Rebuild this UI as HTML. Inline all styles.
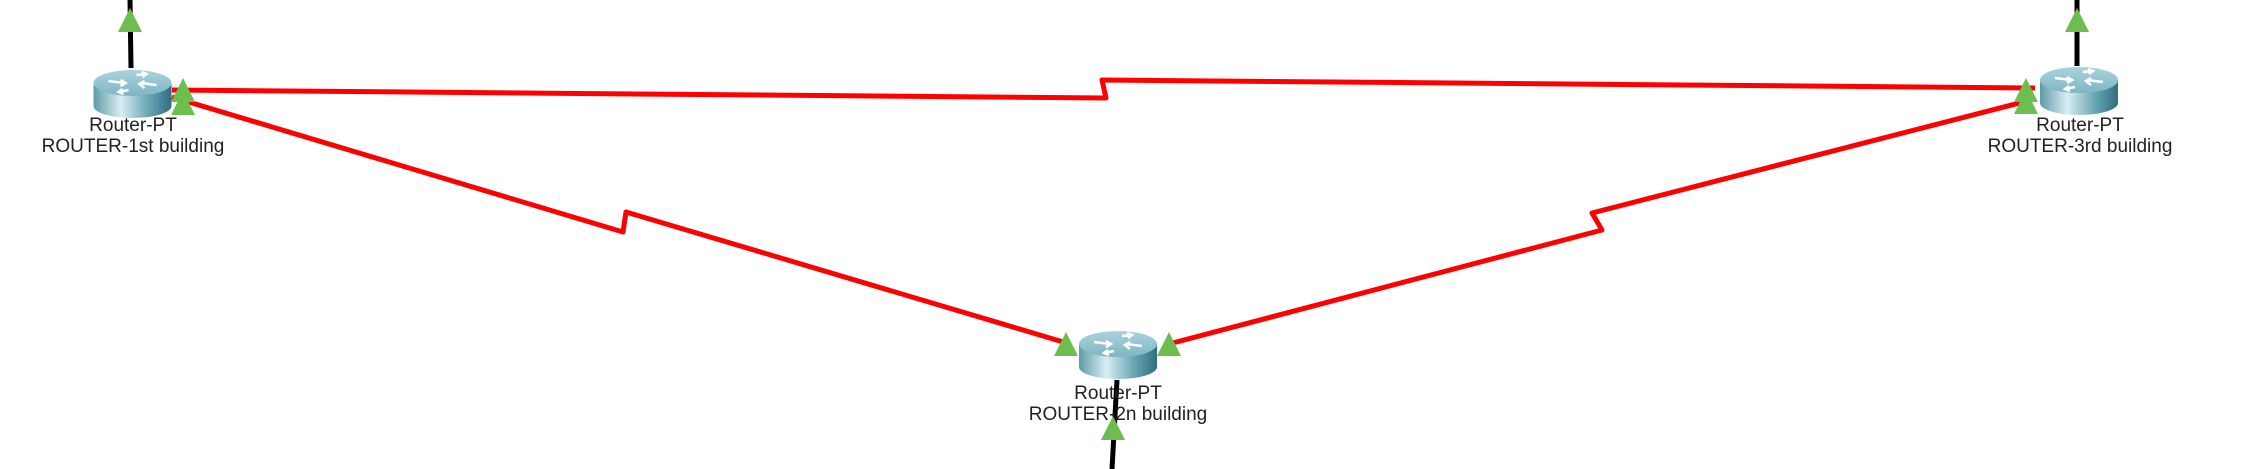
<!DOCTYPE html>
<html><head><style>
html,body{margin:0;padding:0;background:#fff;}
svg{display:block}
text{font-family:"Liberation Sans",sans-serif;font-size:19px;fill:#222;text-anchor:middle}
</style></head><body>
<svg width="2244" height="469" viewBox="0 0 2244 469" xmlns="http://www.w3.org/2000/svg">
<defs>
<linearGradient id="side" x1="0" x2="1" y1="0" y2="0">
<stop offset="0" stop-color="#5f9aa8"/><stop offset="0.35" stop-color="#d8eef2"/><stop offset="0.7" stop-color="#6aa6b4"/><stop offset="1" stop-color="#2f6f80"/>
</linearGradient>
<linearGradient id="top" x1="0" x2="0" y1="0" y2="1">
<stop offset="0" stop-color="#a9d3de"/><stop offset="1" stop-color="#7fb6c4"/>
</linearGradient>
<g id="router">
<path d="M-39,13 L-39,36 A39,12 0 0 0 39,36 L39,13 Z" fill="url(#side)"/>
<ellipse cx="0" cy="13" rx="39" ry="13" fill="url(#top)"/>
<g stroke="#fff" stroke-width="2.5" fill="none">
<path d="M-24,11 L-8,13 M-12,10 L-7,13 L-12,16"/>
<path d="M24,15 L8,13 M12,11 L7,14 L12,18"/>
<path d="M4,5 L14,4 M9,2 L14,4 L10,7"/>
<path d="M-4,20 L-14,22 M-9,24 L-14,22 L-10,19"/>
</g>
</g>
<g id="tri"><polygon points="0,0 12,24 -12,24" fill="#6cbf4f"/></g>
</defs>
<line x1="130" y1="0" x2="131" y2="68" stroke="#000" stroke-width="5"/>
<line x1="2077" y1="0" x2="2077" y2="66" stroke="#000" stroke-width="5"/>
<line x1="1117" y1="380" x2="1112" y2="469" stroke="#000" stroke-width="5"/>
<g stroke="#f00" stroke-width="5" fill="none" stroke-linejoin="round">
<polyline points="172,90 1106,98 1102,80 2035,88"/>
<polyline points="172,97 623,232 626,212 1070,344"/>
<polyline points="1165,345 1602,230 1592,213 2035,99"/>
</g>
<use href="#router" x="132.5" y="70"/>
<use href="#router" x="1118" y="331"/>
<use href="#router" x="2079" y="67"/>
<use href="#tri" x="130" y="8"/>
<use href="#tri" x="2077" y="8"/>
<use href="#tri" x="183" y="78"/>
<use href="#tri" x="183" y="91"/>
<use href="#tri" x="2026" y="78"/>
<use href="#tri" x="2026" y="90"/>
<use href="#tri" x="1066" y="332"/>
<use href="#tri" x="1169" y="332"/>
<text x="133" y="131">Router-PT</text>
<text x="133" y="152">ROUTER-1st building</text>
<text x="2080" y="131">Router-PT</text>
<text x="2080" y="152">ROUTER-3rd building</text>
<text x="1118" y="399">Router-PT</text>
<text x="1118" y="420">ROUTER-2n building</text>
<use href="#tri" x="1113" y="416"/>
</svg>
</body></html>
